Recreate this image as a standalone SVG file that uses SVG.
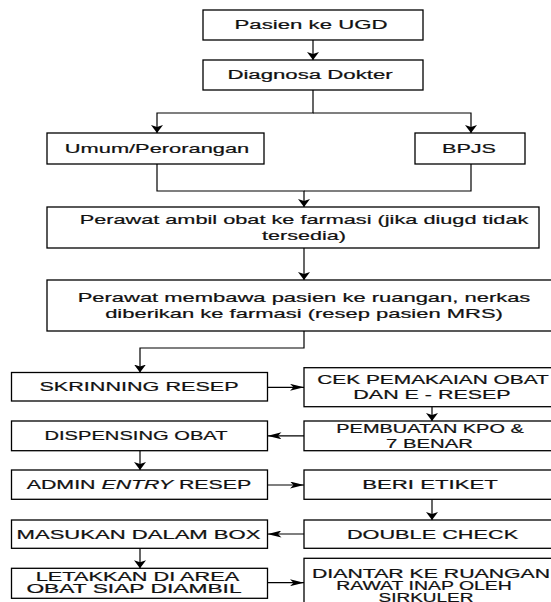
<svg xmlns="http://www.w3.org/2000/svg" width="551" height="602" viewBox="0 0 551 602">
<style>
.b{fill:#fff;stroke:#000;stroke-width:1.3}
.t{font-family:"Liberation Sans",Arial,sans-serif;font-size:12px;fill:#111;stroke:#111;stroke-width:0.2;text-anchor:middle}
.c{fill:none;stroke:#000;stroke-width:1.2}
</style>
<defs>
<marker id="mv" markerUnits="userSpaceOnUse" markerWidth="8" markerHeight="12" refX="8" refY="6" orient="auto"><path d="M0,0 L8,6 L0,12 L2,6 Z" fill="#000"/></marker>
<marker id="mh" markerUnits="userSpaceOnUse" markerWidth="14" markerHeight="7" refX="14" refY="3.5" orient="auto"><path d="M0,0 L14,3.5 L0,7 L3.5,3.5 Z" fill="#000"/></marker>
</defs>
<rect width="551" height="602" fill="#fff"/>
<g id="connectors">
<path class="c" d="M313,40 V60" marker-end="url(#mv)"/>
<path class="c" d="M313,90 V113 H157 V133" marker-end="url(#mv)"/>
<path class="c" d="M313,113 H471 V133" marker-end="url(#mv)"/>
<path class="c" d="M157,164 V191 H304 V207" marker-end="url(#mv)"/>
<path class="c" d="M471,164 V191 H304"/>
<path class="c" d="M304,248 V280" marker-end="url(#mv)"/>
<path class="c" d="M304,331 V348 H140 V372.5" marker-end="url(#mv)"/>
<path class="c" d="M267.5,387.3 H304" marker-end="url(#mh)"/>
<path class="c" d="M432,406.7 V421" marker-end="url(#mv)"/>
<path class="c" d="M304,435.8 H267.5" marker-end="url(#mh)"/>
<path class="c" d="M140,450.7 V470" marker-end="url(#mv)"/>
<path class="c" d="M267.5,485 H304" marker-end="url(#mh)"/>
<path class="c" d="M432,499.3 V520" marker-end="url(#mv)"/>
<path class="c" d="M304,534 H267.5" marker-end="url(#mh)"/>
<path class="c" d="M140,548.3 V568.3" marker-end="url(#mv)"/>
<path class="c" d="M267.5,582.7 H304" marker-end="url(#mh)"/>
</g>
<g id="n1"><rect class="b" x="203" y="10" width="220" height="30"/><text class="t" transform="translate(311,29.3) scale(1.85,1)">Pasien ke UGD</text></g>
<g id="n2"><rect class="b" x="203" y="60" width="220" height="30"/><text class="t" transform="translate(310,79) scale(1.85,1)">Diagnosa Dokter</text></g>
<g id="n3"><rect class="b" x="47" y="133" width="217" height="31"/><text class="t" transform="translate(157,153) scale(1.82,1)">Umum/Perorangan</text></g>
<g id="n4"><rect class="b" x="415" y="133" width="110" height="31"/><text class="t" transform="translate(469,153) scale(1.8,1)">BPJS</text></g>
<g id="n5"><rect class="b" x="47" y="207" width="492" height="41"/><text class="t" transform="translate(304,224) scale(1.81,1)">Perawat ambil obat ke farmasi (jika diugd tidak</text><text class="t" transform="translate(304,239.5) scale(1.8,1)">tersedia)</text></g>
<g id="n6"><rect class="b" x="47" y="280" width="510" height="51"/><text class="t" transform="translate(304,302.3) scale(1.83,1)">Perawat membawa pasien ke ruangan, nerkas</text><text class="t" transform="translate(304,317.8) scale(1.83,1)">diberikan ke farmasi (resep pasien MRS)</text></g>
<g id="n7"><rect class="b" x="11.5" y="372.5" width="256" height="28.5"/><text class="t" transform="translate(139,391) scale(1.8,1)">SKRINNING RESEP</text></g>
<g id="n8"><rect class="b" x="304" y="367.7" width="260" height="39"/><text class="t" transform="translate(433,384) scale(1.74,1)">CEK PEMAKAIAN OBAT</text><text class="t" transform="translate(432,399) scale(1.79,1)">DAN E - RESEP</text></g>
<g id="n9"><rect class="b" x="304" y="421" width="260" height="29.7"/><text class="t" transform="translate(430,433.3) scale(1.66,1)">PEMBUATAN KPO &amp;</text><text class="t" transform="translate(429.5,448.3) scale(1.69,1)">7 BENAR</text></g>
<g id="n10"><rect class="b" x="11.5" y="421" width="256" height="29.7"/><text class="t" transform="translate(136,440) scale(1.68,1)">DISPENSING OBAT</text></g>
<g id="n11"><rect class="b" x="11.5" y="470" width="256" height="29.3"/><text class="t" transform="translate(139,489) scale(1.78,1)">ADMIN <tspan font-style="italic">ENTRY</tspan> RESEP</text></g>
<g id="n12"><rect class="b" x="304" y="470" width="260" height="29.3"/><text class="t" transform="translate(430,489) scale(1.85,1)">BERI ETIKET</text></g>
<g id="n13"><rect class="b" x="304" y="520" width="260" height="28.3"/><text class="t" transform="translate(432.5,538.5) scale(1.81,1)">DOUBLE CHECK</text></g>
<g id="n14"><rect class="b" x="11.5" y="520" width="256" height="28.3"/><text class="t" transform="translate(138.5,538.5) scale(1.84,1)">MASUKAN DALAM BOX</text></g>
<g id="n15"><rect class="b" x="11.5" y="568.3" width="256" height="30"/><text class="t" transform="translate(137.5,580.7) scale(1.81,1)">LETAKKAN DI AREA</text><text class="t" transform="translate(134,592.5) scale(1.9,1)">OBAT SIAP DIAMBIL</text></g>
<g id="n16"><rect class="b" x="304" y="558.3" width="260" height="60"/><text class="t" transform="translate(431,578.3) scale(1.77,1)">DIANTAR KE RUANGAN</text><text class="t" transform="translate(424,590) scale(1.62,1)">RAWAT INAP OLEH</text><text class="t" transform="translate(426,601.7) scale(1.58,1)">SIRKULER</text></g>
</svg>
